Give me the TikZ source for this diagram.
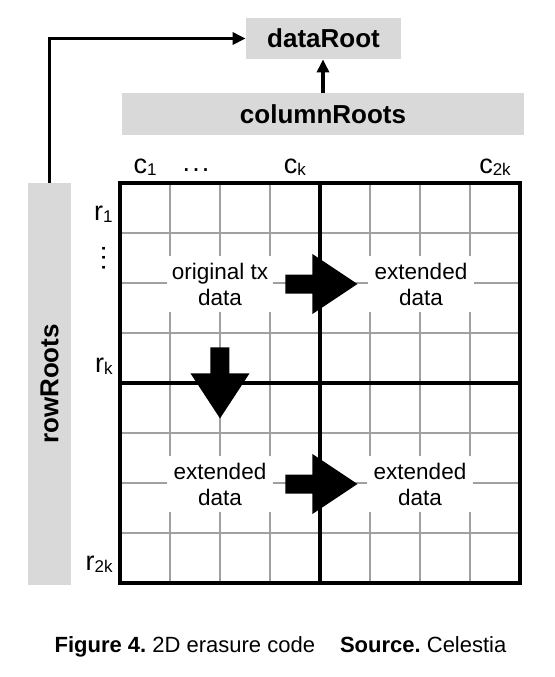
\documentclass[tikz,border=0pt]{standalone}
\usepackage{fontspec}
\setmainfont{Liberation Sans}
\usetikzlibrary{arrows.meta, positioning}

\definecolor{rootgray}{RGB}{217,217,217}
\definecolor{cellgray}{RGB}{160,160,160}

\newcommand{\idxlabel}[2]{{\fontsize{13.5}{15}\selectfont #1}\raisebox{-1.2pt}{\fontsize{8.5}{9}\selectfont #2}}
\frenchspacing

\begin{document}
\begin{tikzpicture}[x=0.5pt, y=-0.5pt, >={Triangle[length=6.5pt,width=6pt]},
  root/.style={fill=rootgray, inner sep=0pt, font=\fontsize{13}{15}\selectfont\bfseries},
  conn/.style={->, line width=1.6pt},
  celltext/.style={fill=white, align=center, inner sep=0pt, minimum width=53pt, minimum height=28pt, font=\fontsize{11.25}{13}\selectfont},
  axislabel/.style={inner sep=0pt},
  thinline/.style={cellgray, line width=0.6pt},
  thickline/.style={black, line width=1.7pt},
  fatarrow/.style={fill=black}]

\useasboundingbox (0,0) rectangle (555,677);

% Roots
\node (dataroot) [root, minimum width=77.5pt, minimum height=20.5pt] at (323.5,38.5) {dataRoot};
\node (colroots) [root, minimum width=201pt, minimum height=21pt] at (323,114) {columnRoots};
\node (rowroots) [root, minimum width=21.5pt, minimum height=201pt] at (49.5,384) {\rotatebox{90}{rowRoots}};

% Grid
\foreach \i in {1,...,7} {
  \draw[thinline] (120+50*\i,183) -- (120+50*\i,583);
  \draw[thinline] (120,183+50*\i) -- (520,183+50*\i);
}
\draw[thickline] (320,183) -- (320,583);
\draw[thickline] (120,383) -- (520,383);
\draw[thickline] (120,183) rectangle (520,583);

% Column and row labels
\node (c1) [axislabel, anchor=base] at (145,173) {\idxlabel{c}{1}};
\node (cdots) [axislabel, anchor=base] at (196,171) {\fontsize{13.5}{15}\selectfont .\kern1pt.\kern1pt.};
\node (ck) [axislabel, anchor=base] at (295,173) {\idxlabel{c}{k}};
\node (c2k) [axislabel, anchor=base] at (495,173) {\idxlabel{c}{2k}};
\node (r1) [axislabel, anchor=base east] at (113,220) {\idxlabel{r}{1}};
\node (rdots) [axislabel] at (104,258) {\rotatebox{90}{\fontsize{13.5}{15}\selectfont .\kern1pt.\kern1pt.}};
\node (rk) [axislabel, anchor=base east] at (113,372) {\idxlabel{r}{k}};
\node (r2k) [axislabel, anchor=base east] at (113,570) {\idxlabel{r}{2k}};

% Cell texts
\node (orig) [celltext] at (220,284) {original tx\\data};
\node (extright) [celltext] at (421,284) {extended\\data};
\node (extdown) [celltext] at (220,484) {extended\\data};
\node (extboth) [celltext] at (420,484) {extended\\data};

% Fat arrows
\fill[fatarrow] ([xshift=6pt]orig.east) ++(0,-9.5) -- ++(27,0) -- ++(0,-20.5) -- ++(45,30) -- ++(-45,30) -- ++(0,-20.5) -- ++(-27,0) -- cycle;
\fill[fatarrow] ([yshift=-17.5pt]orig.south) ++(-9.5,0) -- ++(0,26) -- ++(-20,0) -- ++(29.5,45) -- ++(29.5,-45) -- ++(-20,0) -- ++(0,-26) -- cycle;
\fill[fatarrow] ([xshift=6pt]extdown.east) ++(0,-9.5) -- ++(27,0) -- ++(0,-20.5) -- ++(45,30) -- ++(-45,30) -- ++(0,-20.5) -- ++(-27,0) -- cycle;

% Arrows
\draw[conn] (colroots.north) -- (colroots.north |- dataroot.south);
\draw[conn] (rowroots.north) |- (dataroot.west);

% Caption
\node (caption) [anchor=base] at (280.5,652) {\fontsize{11}{13}\selectfont\textbf{Figure 4.} 2D erasure code\hspace{12.5pt}\textbf{Source.} Celestia};

\end{tikzpicture}
\end{document}
